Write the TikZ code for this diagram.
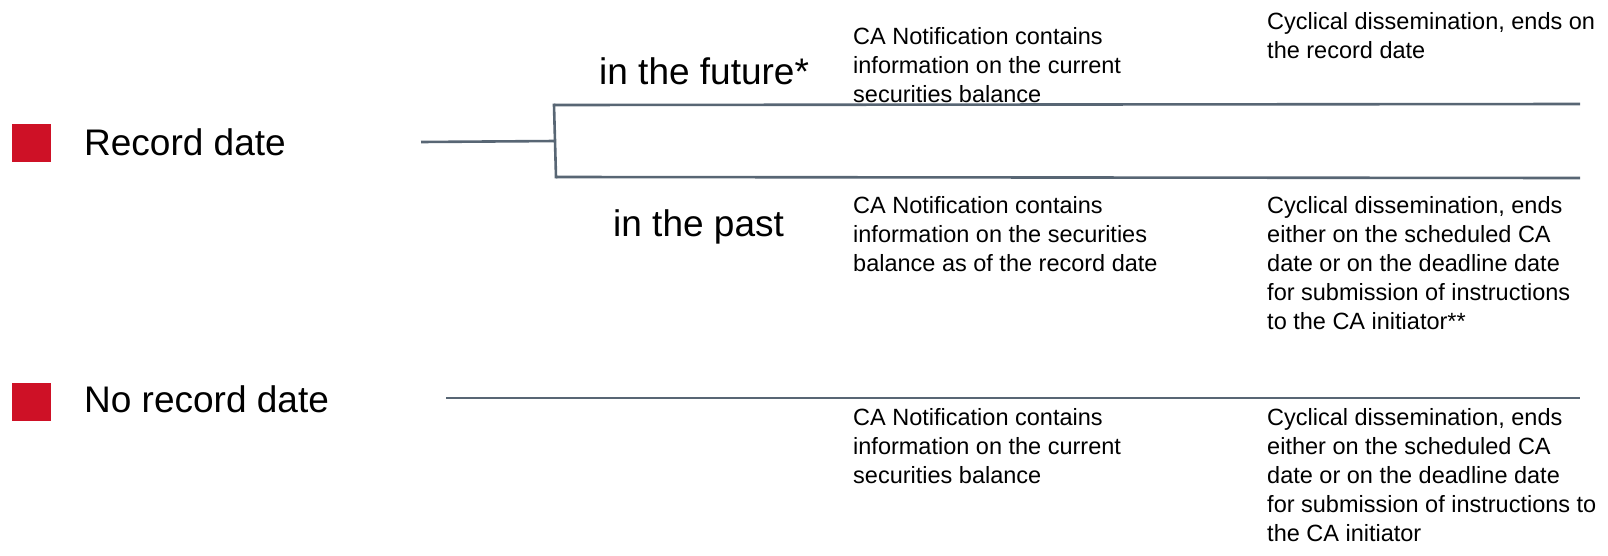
\documentclass[tikz,border=0pt]{standalone}
\usepackage{fontspec}
\setmainfont{Liberation Sans}
\usetikzlibrary{positioning}

\definecolor{markred}{RGB}{206,17,38}
\definecolor{slate}{RGB}{88,102,116}

\tikzset{
  bigtext/.style={anchor=base west, inner sep=0pt, font=\fontsize{37}{44}\selectfont},
  notetext/.style={anchor=north west, inner sep=0pt, align=left, font=\fontsize{23.5}{29}\selectfont},
  branch/.style={draw=slate, line width=2.6pt},
}

\begin{document}
\begin{tikzpicture}[x=1pt, y=-1pt]
\useasboundingbox (0,0) rectangle (1608,555);

% Markers
\fill[markred] (12,124) rectangle (51,162);
\fill[markred] (12,383) rectangle (51,421);
\node[bigtext] (rec) at (84,155) {Record date};
\node[bigtext] (norec) at (84,412) {No record date};

% Branches
\node[bigtext] (future) at (599,84) {in the future*};
\node[bigtext] (past) at (613,236) {in the past};

\coordinate (stem) at (421,142);
\coordinate (fork) at (555,141);
\coordinate (forktop) at (554,105);
\coordinate (forkbot) at (556,177);
\coordinate (topend) at (1580,104);
\coordinate (botend) at (1580,178);
\coordinate (nostart) at (446,398);
\coordinate (noend) at (1580,398);

\draw[branch] (stem) -- (fork);
\draw[branch, line cap=rect] (forktop) -- (forkbot);
\draw[branch] (forktop) -- (topend);
\draw[branch] (forkbot) -- (botend);
\draw[branch] (nostart) -- (noend);

% Notification content
\node[notetext] (futinfo) at (853,27) {CA Notification contains\\information on the current\\securities balance};
\node[notetext] (pastinfo) at (853,196) {CA Notification contains\\information on the securities\\balance as of the record date};
\node[notetext] (noinfo) at (853,408) {CA Notification contains\\information on the current\\securities balance};

% Dissemination
\node[notetext] (futdiss) at (1267,12) {Cyclical dissemination, ends on\\the record date};
\node[notetext] (pastdiss) at (1267,196) {Cyclical dissemination, ends\\either on the scheduled CA\\date or on the deadline date\\for submission of instructions\\to the CA initiator**};
\node[notetext] (nodiss) at (1267,408) {Cyclical dissemination, ends\\either on the scheduled CA\\date or on the deadline date\\for submission of instructions to\\the CA initiator};
\end{tikzpicture}
\end{document}
